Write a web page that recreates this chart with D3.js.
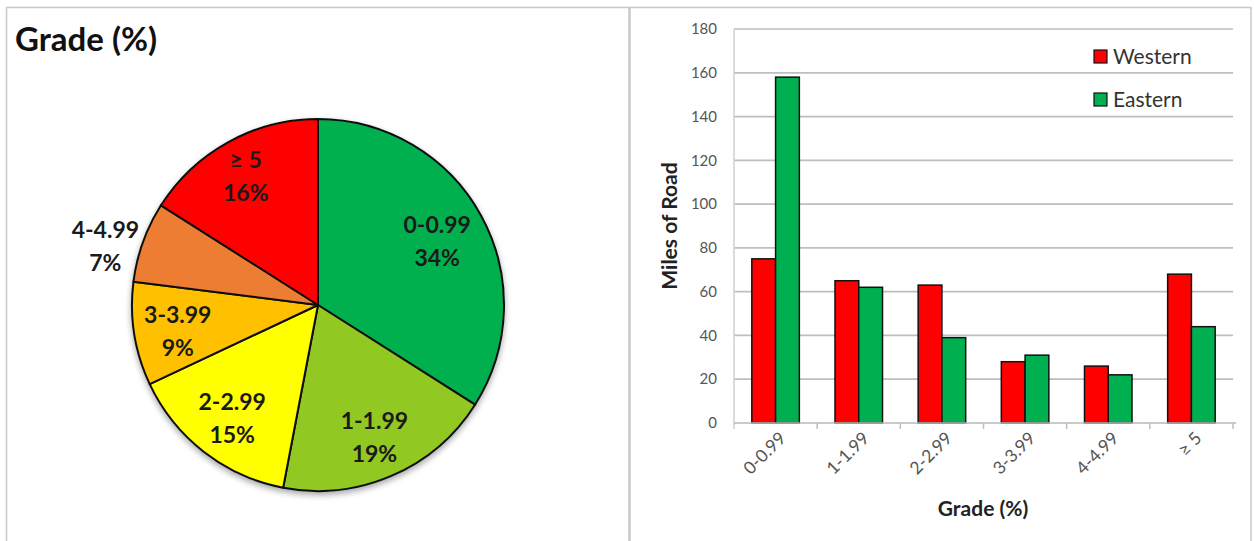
<!DOCTYPE html>
<html>
<head>
<meta charset="utf-8">
<script src="https://cdn.jsdelivr.net/npm/d3@7"></script>
<style>
  html, body { margin: 0; padding: 0; background: #fff; }
  svg { display: block; font-family: Lato, "Open Sans", sans-serif; }
</style>
</head>
<body>
<svg id="chart" width="1254" height="541"></svg>
<script>
// ---- data ----
const categories = ["0-0.99", "1-1.99", "2-2.99", "3-3.99", "4-4.99", "≥ 5"];
const piePercent = [34, 19, 15, 9, 7, 16];
const pieColors = ["#00B050", "#92C820", "#FFFF00", "#FFC000", "#ED7D31", "#FF0000"];
const western = [75, 65, 63, 28, 26, 68];
const eastern = [158, 62, 39, 31, 22, 44];
const seriesNames = ["Western", "Eastern"];
const seriesColors = ["#FF0000", "#00B050"];
const yTicks = [0, 20, 40, 60, 80, 100, 120, 140, 160, 180];

// label layout (radius per slice label, and vertical nudge, px)
const labelRadius = [136, 142, 140, 142, 226, 150];
const labelDy = [0, 0, 0, 2, 16, 0];

const svg = d3.select("#chart");

// ---- panel frames ----
const frame = svg.append("g").attr("fill", "none").attr("stroke", "#C8C8C8").attr("stroke-width", 1.5);
frame.append("line").attr("x1", 6).attr("x2", 1251).attr("y1", 7.5).attr("y2", 7.5);
frame.append("line").attr("x1", 6.5).attr("x2", 6.5).attr("y1", 7).attr("y2", 541);
frame.append("line").attr("x1", 629.5).attr("x2", 629.5).attr("y1", 7).attr("y2", 541).attr("stroke-width", 2.5);
frame.append("line").attr("x1", 1251).attr("x2", 1251).attr("y1", 7).attr("y2", 541);

// ---- pie ----
const defs = svg.append("defs");
const f = defs.append("filter").attr("id", "shadow").attr("x", "-20%").attr("y", "-20%").attr("width", "140%").attr("height", "140%");
f.append("feGaussianBlur").attr("in", "SourceAlpha").attr("stdDeviation", 3);
f.append("feOffset").attr("dx", 0).attr("dy", 3).attr("result", "b");
f.append("feComponentTransfer").append("feFuncA").attr("type", "linear").attr("slope", 0.35);
const fm = f.append("feMerge");
fm.append("feMergeNode");
fm.append("feMergeNode").attr("in", "SourceGraphic");

svg.append("text").attr("x", 15).attr("y", 51)
  .attr("font-size", 33).attr("font-weight", 700).attr("fill", "#111")
  .text("Grade (%)");

const cx = 318, cy = 305, R = 186;
const pie = d3.pie().sort(null).value(d => d)(piePercent);
const arc = d3.arc().innerRadius(0).outerRadius(R);

const pg = svg.append("g").attr("transform", `translate(${cx},${cy})`);
const sg = pg.append("g").attr("filter", "url(#shadow)");
sg.selectAll("path").data(pie).join("path")
  .attr("d", arc)
  .attr("fill", (d, i) => pieColors[i])
  .attr("stroke", "#111")
  .attr("stroke-width", 2)
  .attr("stroke-linejoin", "round");

const lab = pg.selectAll("g.lab").data(pie).join("g").attr("class", "lab")
  .attr("transform", (d, i) => {
    const r = labelRadius[i];
    const p = d3.arc().innerRadius(r).outerRadius(r).centroid(d);
    return `translate(${p[0]},${p[1] + labelDy[i]})`;
  });
lab.append("text").attr("text-anchor", "middle").attr("font-size", 23).attr("font-weight", 700)
  .attr("fill", "#1a1a1a")
  .attr("y", -6).text((d, i) => categories[i]);
lab.append("text").attr("text-anchor", "middle").attr("font-size", 23).attr("font-weight", 700)
  .attr("fill", "#1a1a1a")
  .attr("y", 27).text(d => d.data + "%");

// ---- bar chart ----
const x0 = 734, x1 = 1233, yTop = 29, yBot = 423;
const x = d3.scaleBand().domain(categories).range([x0, x1]).paddingInner(0).paddingOuter(0);
const y = d3.scaleLinear().domain([0, 180]).range([yBot, yTop]);
const bw = x.bandwidth() / 3.5;

const bg = svg.append("g");
// gridlines
bg.append("g").selectAll("line").data(yTicks.filter(t => t > 0)).join("line")
  .attr("x1", x0).attr("x2", x1)
  .attr("y1", d => y(d)).attr("y2", d => y(d))
  .attr("stroke", "#BEBEBE").attr("stroke-width", 1.7);

// y axis line
bg.append("line").attr("x1", x0).attr("x2", x0).attr("y1", yTop).attr("y2", yBot + 6)
  .attr("stroke", "#CFCFCF").attr("stroke-width", 1.5);

// y tick labels
bg.append("g").selectAll("text").data(yTicks).join("text")
  .attr("x", 717).attr("y", d => y(d)).attr("dy", "0.35em")
  .attr("text-anchor", "end").attr("font-size", 15).attr("fill", "#555")
  .text(d => d);

// bars
const series = [western, eastern];
series.forEach((vals, s) => {
  bg.append("g").selectAll("rect").data(vals).join("rect")
    .attr("x", (d, i) => x(categories[i]) + bw * 0.75 + s * bw)
    .attr("y", d => y(d))
    .attr("width", bw)
    .attr("height", d => yBot - y(d))
    .attr("fill", seriesColors[s])
    .attr("stroke", "#111").attr("stroke-width", 1.5);
});

// x axis line and ticks
bg.append("line").attr("x1", x0).attr("x2", x1 + 3).attr("y1", yBot).attr("y2", yBot)
  .attr("stroke", "#B8B8B8").attr("stroke-width", 1.7);
bg.append("g").selectAll("line").data(categories).join("line")
  .attr("x1", (d, i) => x0 + (i + 1) * x.bandwidth())
  .attr("x2", (d, i) => x0 + (i + 1) * x.bandwidth())
  .attr("y1", yBot).attr("y2", yBot + 6)
  .attr("stroke", "#BDBDBD").attr("stroke-width", 1.5);

// x tick labels rotated
bg.append("g").selectAll("text").data(categories).join("text")
  .attr("transform", d => `translate(${x(d) + x.bandwidth() / 2 + 7},${yBot + 12}) rotate(-45)`)
  .attr("text-anchor", "end").attr("dy", "0.35em")
  .attr("font-size", 17.5).attr("fill", "#555")
  .text(d => d);

// axis titles
bg.append("text").attr("transform", `translate(677,226) rotate(-90)`)
  .attr("text-anchor", "middle").attr("font-size", 21).attr("font-weight", 700).attr("fill", "#222")
  .text("Miles of Road");
bg.append("text").attr("x", 983).attr("y", 516)
  .attr("text-anchor", "middle").attr("font-size", 21).attr("font-weight", 700).attr("fill", "#222")
  .text("Grade (%)");

// legend
const lg = bg.append("g").selectAll("g").data(seriesNames).join("g")
  .attr("transform", (d, i) => `translate(1094,${50 + i * 43})`);
lg.append("rect").attr("width", 13).attr("height", 13)
  .attr("fill", (d, i) => seriesColors[i]).attr("stroke", "#111").attr("stroke-width", 1.2);
lg.append("text").attr("x", 19).attr("y", 7).attr("dy", "0.35em")
  .attr("font-size", 21).attr("fill", "#333").text(d => d);
</script>
</body>
</html>
